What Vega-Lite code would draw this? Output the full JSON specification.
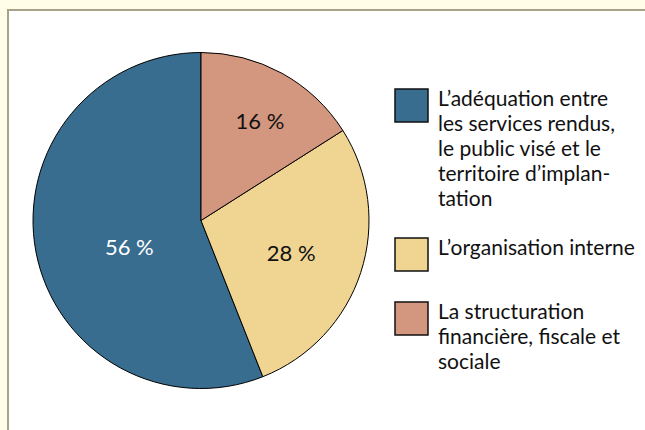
{
  "$schema": "https://vega.github.io/schema/vega-lite/v6.json",
  "background": "#fffde8",
  "padding": {"left": 7, "top": 9, "right": 0, "bottom": 0},
  "spacing": 0,
  "config": {
    "view": {"fill": "white", "stroke": null},
    "concat": {"spacing": 0},
    "style": {"guide-label": {"lineHeight": 25}}
  },
  "data": {
    "values": [
      {"cat": "L’adéquation entre les services rendus, le public visé et le territoire d’implantation", "v": 56, "label": "56 %"},
      {"cat": "L’organisation interne", "v": 28, "label": "28 %"},
      {"cat": "La structuration financière, fiscale et sociale", "v": 16, "label": "16 %"}
    ]
  },
  "vconcat": [
    {
      "width": 644,
      "height": 2,
      "view": {"fill": "#a8a288", "stroke": null},
      "mark": {"type": "point", "opacity": 0, "size": 0, "strokeWidth": 0}
    },
    {
      "spacing": 0,
      "hconcat": [
        {
          "width": 2,
          "height": 423,
          "view": {"fill": "#a8a288", "stroke": null},
          "mark": {"type": "point", "opacity": 0, "size": 0, "strokeWidth": 0}
        },
        {
          "width": 384,
          "height": 419,
          "view": {"fill": "white", "stroke": null},
          "encoding": {
            "theta": {"field": "v", "type": "quantitative", "stack": true},
            "order": {"field": "v", "type": "quantitative", "sort": "ascending"}
          },
          "layer": [
            {
              "mark": {"type": "arc", "radius": 168, "stroke": "black", "strokeWidth": 1},
              "encoding": {
                "color": {
                  "field": "cat",
                  "type": "nominal",
                  "scale": {
                    "domain": [
                      "L’adéquation entre les services rendus, le public visé et le territoire d’implantation",
                      "L’organisation interne",
                      "La structuration financière, fiscale et sociale"
                    ],
                    "range": ["#386d8f", "#efd591", "#d3967e"]
                  },
                  "legend": {
                    "title": null,
                    "orient": "none",
                    "legendX": 387,
                    "legendY": 79,
                    "padding": 0,
                    "symbolType": "square",
                    "symbolSize": 1089,
                    "symbolOpacity": 1,
                    "symbolStrokeColor": "#111111",
                    "symbolStrokeWidth": 1.5,
                    "labelFont": "Lato",
                    "labelFontSize": 21,
                    "labelColor": "#111111",
                    "labelOffset": 9,
                    "labelLimit": 400,
                    "labelBaseline": "alphabetic",
                    "rowPadding": 25,
                    "labelExpr": "datum.index == 0 ? ['L’adéquation entre', 'les services rendus,', 'le public visé et le', 'territoire d’implan-', 'tation'] : datum.index == 2 ? ['La structuration', 'financière, fiscale et', 'sociale'] : datum.label"
                  }
                }
              }
            },
            {
              "mark": {"type": "text", "radius": 114, "dx": 4, "dy": 1, "font": "Lato", "fontSize": 22, "color": "#111111"},
              "encoding": {"text": {"condition": {"test": "datum.v === 16", "field": "label"}, "value": ""}}
            },
            {
              "mark": {"type": "text", "radius": 97, "dx": -2, "dy": 4, "font": "Lato", "fontSize": 22, "color": "#111111"},
              "encoding": {"text": {"condition": {"test": "datum.v === 28", "field": "label"}, "value": ""}}
            },
            {
              "mark": {"type": "text", "radius": 76, "dx": 3, "dy": 13, "font": "Lato", "fontSize": 22, "color": "white"},
              "encoding": {"text": {"condition": {"test": "datum.v === 56", "field": "label"}, "value": ""}}
            }
          ]
        },
        {
          "width": 258,
          "height": 423,
          "view": {"fill": "white", "stroke": null},
          "mark": {"type": "point", "opacity": 0, "size": 0, "strokeWidth": 0}
        }
      ]
    }
  ]
}
